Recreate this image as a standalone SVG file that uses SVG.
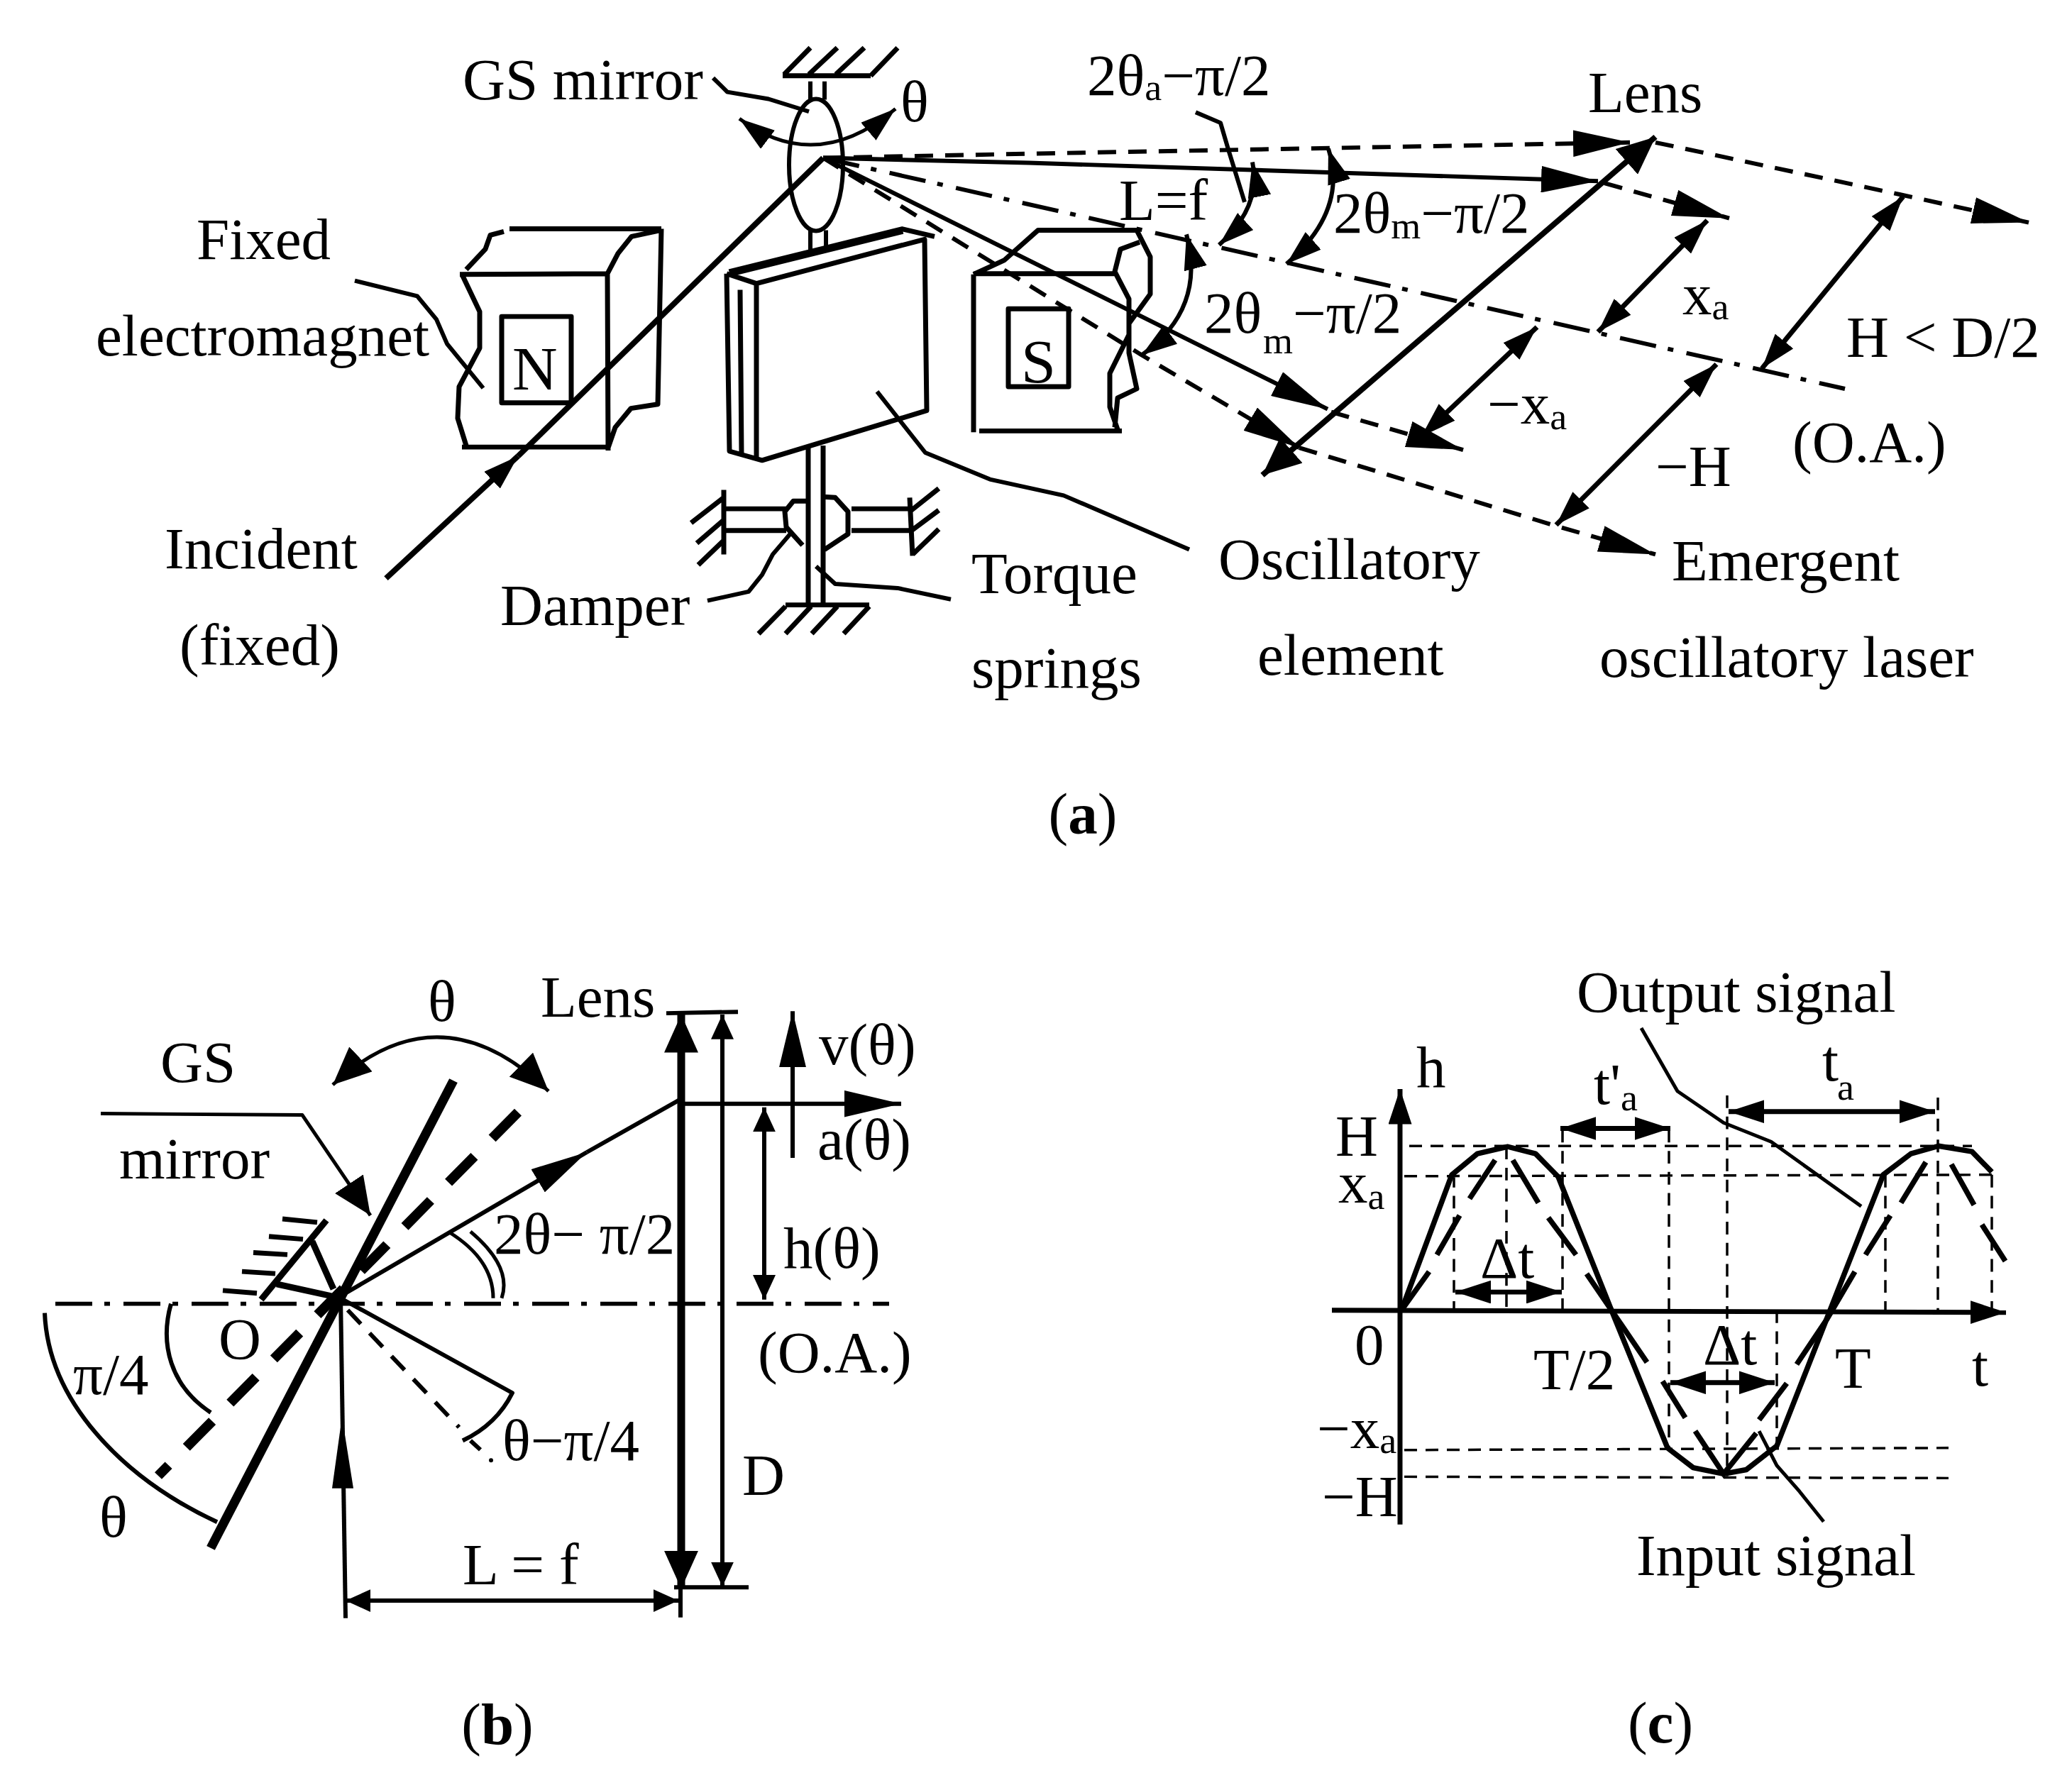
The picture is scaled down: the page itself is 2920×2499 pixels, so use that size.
<svg xmlns="http://www.w3.org/2000/svg" width="2920" height="2499" viewBox="0 0 2920 2499">
<style>
text{font-family:"Liberation Serif","Times New Roman",serif;font-size:83px;fill:#000}
.sub{font-size:54px}
.b{font-weight:bold}
.pole{font-size:88px}
.l,.t,.m,.d,.dt,.da,.g,.ld,.h,.k{fill:none;stroke:#000;stroke-linejoin:round}
.l{stroke-width:5}
.m{stroke-width:6}
.k{stroke-width:7}
.h{stroke-width:7}
.t{stroke-width:8}
.d{stroke-width:6;stroke-dasharray:26 17}
.dt{stroke-width:3.5;stroke-dasharray:18 12}
.da{stroke-width:6;stroke-dasharray:52 17 8 19}
.g{stroke-width:14;stroke-dasharray:52 36}
.ld{stroke-width:6;stroke-dasharray:27 18}
.ar{marker-end:url(#A)}
.am{marker-end:url(#M)}
.dm{marker-start:url(#M);marker-end:url(#M)}
.dt2{marker-start:url(#T);marker-end:url(#T)}
.dw{marker-start:url(#W);marker-end:url(#W)}
</style>
<defs>
<marker id="A" markerUnits="userSpaceOnUse" markerWidth="80" markerHeight="38" viewBox="0 0 80 38" refX="80" refY="19" orient="auto-start-reverse"><path d="M0 0L80 19L0 38Z"/></marker>
<marker id="W" markerUnits="userSpaceOnUse" markerWidth="54" markerHeight="48" viewBox="0 0 54 48" refX="54" refY="24" orient="auto-start-reverse"><path d="M0 0L54 24L0 48Z"/></marker>
<marker id="M" markerUnits="userSpaceOnUse" markerWidth="50" markerHeight="33" viewBox="0 0 50 33" refX="50" refY="16.5" orient="auto-start-reverse"><path d="M0 0L50 16.5L0 33Z"/></marker>
<marker id="T" markerUnits="userSpaceOnUse" markerWidth="35" markerHeight="32" viewBox="0 0 35 32" refX="35" refY="16" orient="auto-start-reverse"><path d="M0 0L35 16L0 32Z"/></marker>
</defs>
<rect width="2920" height="2499" fill="#fff"/>

<g id="panel-a" transform="scale(1 0.98916)">
<g id="ground-top"><path class="h" d="M1103 108H1227M1105 106L1142 68M1140 106L1180 68M1178 106L1218 68M1227 108L1265 68"/><path class="m" d="M1142 116V142M1162 116V142M1142 328V357M1164 328V357"/></g>
<g id="gs-mirror"><ellipse class="m" cx="1150" cy="235" rx="38" ry="94"/></g>
<g id="magnet-n"><path class="k" d="M718 326H932M657 384L684 355L691 335L710 330M648 391L856 390M932 328L890 337L871 361L856 390M932 326L927 576L889 582L867 609L857 638M856 390L857 642M651 637H860M651 391L676 444V496L647 551L645 596L657 635"/><rect class="k" x="707" y="451" width="98" height="123"/><text class="pole" x="722" y="555">N</text></g>
<g id="oscillatory-element"><path class="k" d="M1066 404L1303 341L1306 585L1074 656L1028 643L1024 390M1024 390L1066 404V651M1043 413L1045 648M1270 326L1317 337"/><path fill="none" stroke="#000" stroke-width="11" d="M1028 389L1272 328"/></g>
<g id="magnet-s"><path class="k" d="M1372 391V616M1372 390H1571M1380 614H1581M1372 391L1415 371L1463 328H1602L1621 366V419L1591 461V503L1602 554L1575 567L1571 609M1606 345L1579 355L1571 387L1591 426V477L1564 532V580L1575 612"/><rect class="k" x="1421" y="440" width="85" height="111"/><text class="pole" x="1439" y="545">S</text></g>
<g id="springs-damper"><path class="k" d="M1139 635V861M1160 635V861M1107 862H1225M1107 864L1069 903M1143 864L1107 903M1180 864L1144 903M1225 864L1189 903M1020 698V790M1020 709L974 745M1020 741L982 774M1020 770L984 805M1020 725H1108M1020 756H1108M1139 714H1118L1106 729L1108 751L1131 777M1160 708L1177 709L1195 729V761L1162 783M1200 725H1284M1200 756H1284M1282 709L1286 792M1282 729L1323 696M1282 758L1323 727M1286 790L1323 754"/></g>
<g id="connectors-a">
<path class="m" d="M1005 111L1025 131L1083 141L1140 159M500 400L588 422L615 455L630 490L681 553M997 856L1055 843L1074 819L1089 790L1116 758M1150 807L1177 832L1265 838L1340 854M1236 558L1304 645L1395 683L1499 706L1676 783M1685 160L1720 175L1731 213L1754 288"/>
<path class="l dm" d="M1042 169Q1150 250 1262 155"/>
<path class="t am" d="M544 824L730 650"/><path class="t" d="M730 650L1160 225"/>
<path class="d ar" d="M1160 225L1450 219L2297 203"/>
<path class="d ar" d="M2333 203L2677 277L2859 317"/>
<path class="m ar" d="M1160 225L1450 232L2252 258"/>
<path class="d ar" d="M2261 261L2437 311"/>
<path class="da" d="M1160 225L2600 554"/>
<path class="m ar" d="M1160 225L1871 583"/>
<path class="d ar" d="M1876 587L2062 641"/>
<path class="d ar" d="M1160 225L1609 506L1831 638"/>
<path class="d ar" d="M1831 638L2188 748L2333 790"/>
<path class="t dw" d="M2333 195L1779 677"/>
<path class="k dm" d="M2406 314L2252 473"/>
<path class="k dm" d="M2682 280L2483 525"/>
<path class="k dm" d="M2166 466L2003 622"/>
<path class="k dm" d="M2419 519L2193 748"/>
<path class="m dm" d="M1765 231Q1778 295 1718 349"/>
<path class="m dm" d="M1872 212Q1900 300 1813 376"/>
<path class="m dm" d="M1672 334Q1700 440 1609 506"/>
</g>
<g id="labels-a">
<text x="652" y="142">GS mirror</text>
<text x="1269" y="173">θ</text>
<text x="1532" y="135">2θ<tspan class="sub" dy="8">a</tspan><tspan dy="-8">−π/2</tspan></text>
<text x="2238" y="160">Lens</text>
<text x="1577" y="313">L=f</text>
<text x="1879" y="332">2θ<tspan class="sub" dy="8">m</tspan><tspan dy="-8">−π/2</tspan></text>
<text x="1697" y="474">2θ</text><text class="sub" x="1780" y="503">m</text><text x="1822" y="474">−π/2</text>
<text x="2371" y="448">x<tspan class="sub" dy="7">a</tspan></text>
<text x="2602" y="509">H &lt; D/2</text>
<text x="2096" y="604">−x<tspan class="sub" dy="8">a</tspan></text>
<text x="2526" y="658">(O.A.)</text>
<text x="2333" y="693">−H</text>
<text x="1717" y="825">Oscillatory</text>
<text x="1772" y="961">element</text>
<text x="2356" y="827">Emergent</text>
<text x="2254" y="964">oscillatory laser</text>
<text x="1369" y="845">Torque</text>
<text x="1369" y="980">springs</text>
<text x="705" y="891">Damper</text>
<text x="277" y="369">Fixed</text>
<text x="135" y="507">electromagnet</text>
<text x="232" y="810">Incident</text>
<text x="253" y="947">(fixed)</text>
<text x="1526" y="1188" text-anchor="middle">(<tspan class="b">a</tspan>)</text>
</g>
</g>

<g id="panel-b" transform="translate(0 14.63) scale(1 0.98916)">
<g id="mirror-b"><path d="M639 1525L297 2191" fill="none" stroke="#000" stroke-width="13"/><path class="g" d="M730 1570L223 2088"/></g>
<g id="mount-b"><path fill="none" stroke="#000" stroke-width="9" d="M460 1724L368 1837M440 1754L470 1822M390 1815L467 1832"/><path class="h" d="M398 1722L447 1727M379 1747L427 1751M357 1770L405 1773M341 1797L388 1800M314 1824L362 1828"/></g>
<g id="connectors-b">
<path class="da" d="M78 1843H1253"/>
<path class="m" d="M487 2291L480 1832"/><path d="M482 2004L468 2106H498Z"/>
<path class="m ar" d="M480 1832L827 1627"/><path class="m" d="M827 1627L960 1551"/>
<path class="m ar" d="M960 1558L1270 1558"/>
<path d="M960 1431V2249" fill="none" stroke="#000" stroke-width="11" style="marker-start:url(#W);marker-end:url(#W)"/>
<path class="m" d="M939 1429L1040 1427M950 2247H1055M959 2249V2290"/>
<path class="m dt2" d="M1018 1431V2246"/>
<path class="m ar" d="M1117 1635V1426"/>
<path class="m dt2" d="M1077 1563V1837"/>
<path class="m dt2" d="M487 2266H956"/>
<path class="m" d="M480 1835L722 1970Q700 2015 652 2038M663 2038L677 2051"/>
<circle cx="692" cy="2066" r="3"/>
<path class="ld" d="M490 1852L647 2019"/>
<path class="m" d="M63 1856C68 1980 170 2090 306 2154M241 1843C225 1900 240 1960 297 1998"/>
<path class="l" d="M633 1741Q695 1780 695 1835M663 1740Q722 1790 707 1835"/>
<path class="l" d="M142 1572L426 1574L522 1717" style="marker-end:url(#W)"/>
<path class="l dw" d="M469 1531Q620 1391 773 1540"/>
</g>
<g id="labels-b">
<text x="762" y="1434">Lens</text>
<text x="603" y="1440">θ</text>
<text x="226" y="1527">GS</text>
<text x="168" y="1664">mirror</text>
<text x="1154" y="1502">v(θ)</text>
<text x="1152" y="1637">a(θ)</text>
<text x="1104" y="1792">h(θ)</text>
<text x="696" y="1772">2θ− π/2</text>
<text x="1068" y="1940">(O.A.)</text>
<text x="308" y="1921">O</text>
<text x="103" y="1972">π/4</text>
<text x="140" y="2175">θ</text>
<text x="708" y="2066">θ−π/4</text>
<text x="1046" y="2115">D</text>
<text x="652" y="2243">L = f</text>
<text x="701" y="2470" text-anchor="middle">(<tspan class="b">b</tspan>)</text>
</g>
</g>

<g id="panel-c" transform="translate(0 13.9) scale(1 0.9897)">
<g id="guides-c"><path class="dt" d="M1986 1618H2779M1979 1661L2807 1659M1979 2051L2746 2048M1979 2089L2746 2091M2049 1659V1852M2123 1619V1852M2202 1595V1852M2352 1595V2050M2434 1546V2088M2504 1852V2045M2657 1659V1852M2731 1549V1852M2807 1659V1852"/></g>
<g id="axes-c"><path class="k am" d="M1973 2157V1537"/><path class="k am" d="M1877 1852L2827 1855"/></g>
<g id="output-signal"><path fill="none" stroke="#000" stroke-width="7.5" stroke-linejoin="round" d="M1975 1852L2046 1659L2082 1629L2125 1619L2164 1629L2196 1662L2271 1852L2350 2048L2386 2076L2429 2085L2461 2079L2504 2045L2579 1852L2654 1659L2693 1629L2732 1618L2779 1626L2807 1655"/></g>
<g id="input-signal"><path fill="none" stroke="#000" stroke-width="7.5" d="M1975 1852L2014 1797M2025 1773L2057 1717M2071 1693L2107 1638M2132 1638L2168 1699M2182 1720L2221 1773M2236 1800L2321 1926M2343 1953L2375 2005M2389 2024L2429 2085L2475 2027M2479 2008L2518 1956M2532 1929L2575 1864L2614 1797M2629 1773L2664 1717M2679 1699L2714 1641M2750 1644L2782 1702M2793 1730L2826 1782"/></g>
<g id="connectors-c">
<path class="k dm" d="M2199 1593H2354"/>
<path class="k dm" d="M2436 1569H2727"/>
<path class="k dm" d="M2051 1826H2201"/>
<path class="k dm" d="M2354 1955H2501"/>
<path class="l" d="M2313 1450L2364 1540L2429 1585L2496 1612L2623 1704M2479 2024L2504 2073L2536 2110L2570 2153"/>
</g>
<g id="labels-c">
<text x="2222" y="1427">Output signal</text>
<text x="1996" y="1534">h</text>
<text x="2246" y="1558">t'<tspan class="sub" dy="9">a</tspan></text>
<text x="2568" y="1525">t</text><text class="sub" x="2589" y="1552">a</text>
<text x="1882" y="1632">H</text>
<text x="1886" y="1699">x<tspan class="sub" dy="9">a</tspan></text>
<text x="2086" y="1806">Δt</text>
<text x="2400" y="1929">Δt</text>
<text x="1909" y="1929">0</text>
<text x="2161" y="1964">T/2</text>
<text x="2586" y="1962">T</text>
<text x="2779" y="1959">t</text>
<text x="1856" y="2048">−x<tspan class="sub" dy="7">a</tspan></text>
<text x="1863" y="2145">−H</text>
<text x="2306" y="2229">Input signal</text>
<text x="2340" y="2468" text-anchor="middle">(<tspan class="b">c</tspan>)</text>
</g>
</g>
</svg>
